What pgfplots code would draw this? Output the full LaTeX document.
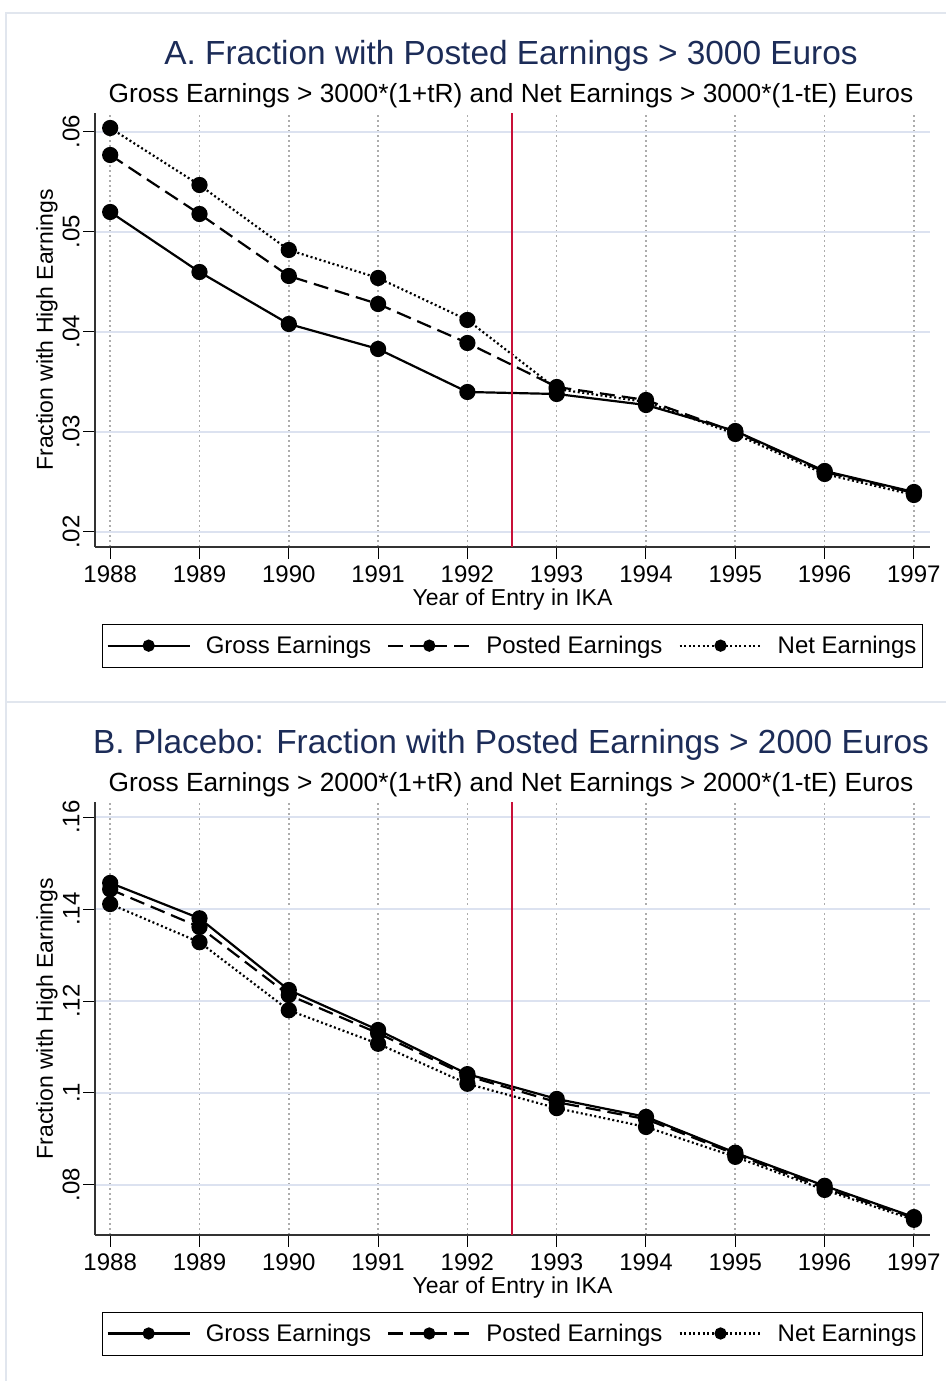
\documentclass[border=0pt]{standalone}
\usepackage{pgfplots}
\pgfplotsset{compat=1.18}
\usepackage{fontspec}
\setmainfont{Liberation Sans}
\definecolor{ttl}{RGB}{28,44,88}
\definecolor{vline}{RGB}{200,16,56}
\definecolor{hgrid}{RGB}{220,226,240}
\definecolor{frame}{RGB}{225,230,238}

\pgfplotsset{
  ser/.style={black, line width=2.2pt, mark=*, mark size=7pt, mark options={solid}},
  panel/.style={
    scale only axis, width=835pt,
    xmin=1987.83, xmax=1997.18,
    scaled y ticks=false,
    axis x line*=bottom, axis y line*=left,
    axis line style={black!80, line width=1.2pt},
    tick style={black, line width=1pt},
    major tick length=12pt, tick align=outside,
    xtick={1988,...,1997},
    xticklabels={1988,1989,1990,1991,1992,1993,1994,1995,1996,1997},
    xticklabel style={font=\fontsize{24}{26}\selectfont, yshift=-3pt},
    yticklabel style={font=\fontsize{24}{26}\selectfont, rotate=90, anchor=south},
    xmajorgrids=true, ymajorgrids=true,
    x grid style={gray!65, dash pattern=on 1.6pt off 3.4pt, line width=1.6pt},
    y grid style={hgrid, line width=2.2pt},
    xlabel={Year of Entry in IKA},
    xlabel style={font=\fontsize{23}{25}\selectfont, yshift=1pt},
    ylabel={Fraction with High Earnings},
    ylabel style={font=\fontsize{23}{25}\selectfont, yshift=-2pt},
    legend columns=3,
    legend style={at={(0.5,-0.177)}, anchor=north, draw=black, line width=0.8pt,
      font=\fontsize{24}{26}\selectfont, inner xsep=4pt, inner ysep=10pt,
      /tikz/every even column/.append style={column sep=14pt}},
    legend image code/.code={%
      \draw[mark repeat=2, mark phase=2, mark size=5pt, #1] plot coordinates {(0pt,0pt) (41pt,0pt) (82pt,0pt)};
      \path (95pt,0pt);},
  }
}

\begin{document}
\begin{tikzpicture}[x=1pt,y=1pt]
\useasboundingbox (0,0) rectangle (945,1381);
\fill[white] (0,0) rectangle (945,1381);
\draw[frame, line width=1.5pt] (6,-5) -- (6,1368) -- (960,1368);
\draw[frame, line width=1.5pt] (6,679) -- (960,679);

\node[text=ttl, font=\fontsize{33.4}{36}\selectfont] at (511,1325) {A. Fraction with Posted Earnings > 3000 Euros};
\node[font=\fontsize{26.3}{29}\selectfont] at (511,1285) {Gross Earnings > 3000*(1+tR) and Net Earnings > 3000*(1-tE) Euros};

\begin{axis}[panel, at={(95pt,834pt)}, anchor=south west, height=434pt,
  ymin=0.0185, ymax=0.0619,
  ytick={0.02,0.03,0.04,0.05,0.06}, yticklabels={.02,.03,.04,.05,.06}]
\addplot[ser, solid] coordinates {(1988,0.0520) (1989,0.0460) (1990,0.0408) (1991,0.0383) (1992,0.0340) (1993,0.0338) (1994,0.0327) (1995,0.0301) (1996,0.0261) (1997,0.0240)};
\addlegendentry{Gross Earnings}
\addplot[ser, dash pattern=on 15pt off 7pt] coordinates {(1988,0.0577) (1989,0.0518) (1990,0.0456) (1991,0.0428) (1992,0.0389) (1993,0.0345) (1994,0.0332) (1995,0.0300) (1996,0.0260) (1997,0.0239)};
\addlegendentry{Posted Earnings}
\addplot[ser, line width=2.2pt, dash pattern=on 2pt off 2.6pt] coordinates {(1988,0.0604) (1989,0.0547) (1990,0.0482) (1991,0.0454) (1992,0.0412) (1993,0.0343) (1994,0.0330) (1995,0.0298) (1996,0.0258) (1997,0.0237)};
\addlegendentry{Net Earnings}
\addplot[vline, line width=1.8pt, forget plot] coordinates {(1992.5,0.0185) (1992.5,0.0619)};
\end{axis}

\node[text=ttl, font=\fontsize{33.4}{36}\selectfont] at (511,636) {B. Placebo: Fraction with Posted Earnings > 2000 Euros};
\node[font=\fontsize{26.3}{29}\selectfont] at (511,596) {Gross Earnings > 2000*(1+tR) and Net Earnings > 2000*(1-tE) Euros};

\begin{axis}[panel, at={(95pt,146pt)}, anchor=south west, height=433pt,
  ymin=0.0691, ymax=0.1633,
  ytick={0.08,0.10,0.12,0.14,0.16}, yticklabels={.08,.1,.12,.14,.16}]
\addplot[ser, solid] coordinates {(1988,0.1457) (1989,0.1380) (1990,0.1224) (1991,0.1137) (1992,0.1041) (1993,0.0987) (1994,0.0948) (1995,0.0870) (1996,0.0798) (1997,0.0730)};
\addlegendentry{Gross Earnings}
\addplot[ser, dash pattern=on 15pt off 7pt] coordinates {(1988,0.1443) (1989,0.1361) (1990,0.1213) (1991,0.1130) (1992,0.1037) (1993,0.0980) (1994,0.0943) (1995,0.0867) (1996,0.0793) (1997,0.0728)};
\addlegendentry{Posted Earnings}
\addplot[ser, line width=2.2pt, dash pattern=on 2pt off 2.6pt] coordinates {(1988,0.1411) (1989,0.1328) (1990,0.1180) (1991,0.1107) (1992,0.1020) (1993,0.0967) (1994,0.0926) (1995,0.0861) (1996,0.0789) (1997,0.0724)};
\addlegendentry{Net Earnings}
\addplot[vline, line width=1.8pt, forget plot] coordinates {(1992.5,0.0691) (1992.5,0.1633)};
\end{axis}
\end{tikzpicture}
\end{document}
